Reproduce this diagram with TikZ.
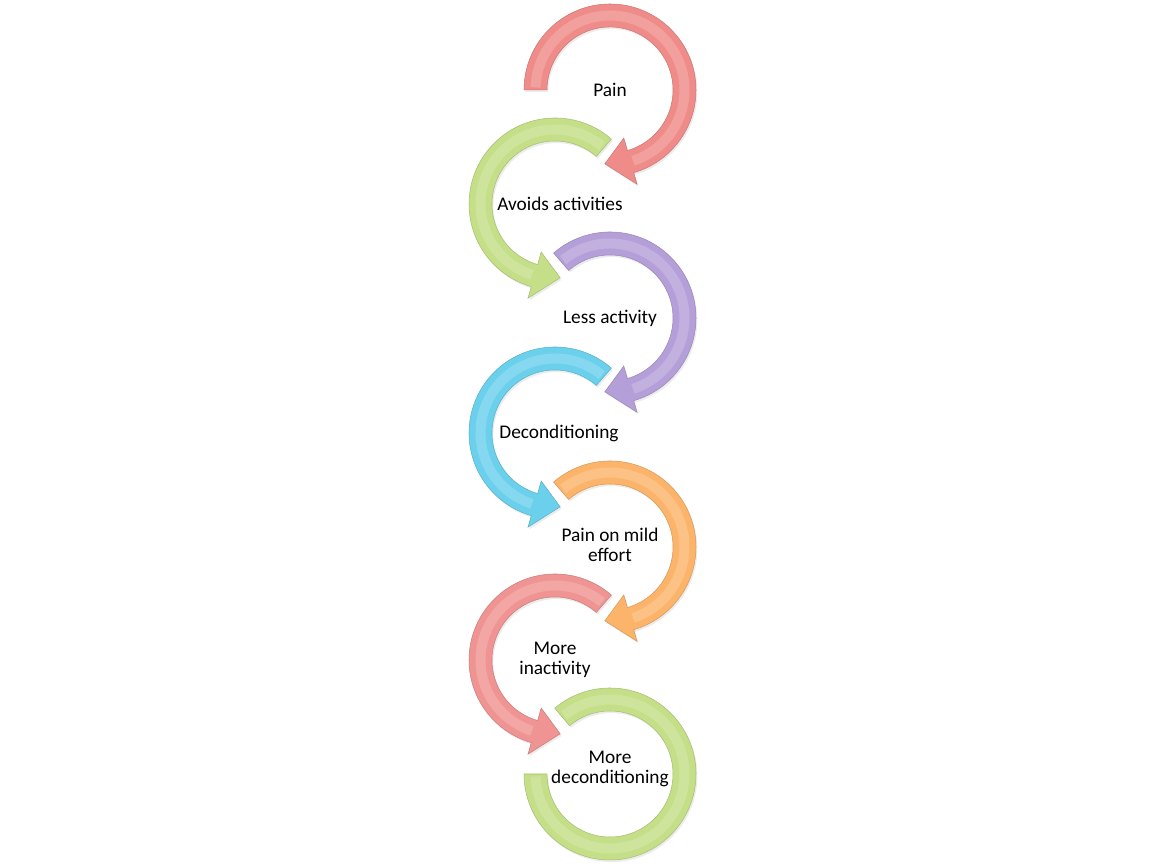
\documentclass[tikz,border=0pt]{standalone}
\usepackage{fontspec}
\setmainfont{Carlito}
\usetikzlibrary{calc,shadows}

\definecolor{painred}{HTML}{EF8C89}
\definecolor{avoidgreen}{HTML}{C4DF88}
\definecolor{lesspurple}{HTML}{B59FD9}
\definecolor{decondcyan}{HTML}{6BD0EC}
\definecolor{effortorange}{HTML}{FCB46A}
\definecolor{inactred}{HTML}{EF9492}
\definecolor{moregreen}{HTML}{C4DF88}

\tikzset{
  ringlabel/.style={align=center,font=\fontsize{11}{11.2}\selectfont,inner sep=0pt},
  ringbody/.style={fill=#1,draw=#1!85!black,line width=0.3pt,
    drop shadow={opacity=0.15,shadow xshift=0.8pt,shadow yshift=-1.2pt}},
  ringshine/.style={draw=#1!40!white,line width=0.2cm,opacity=0.3}
}

% clockwise ring arrow, head at the bottom (right column)
\newcommand{\cwring}[3]{%
  \fill[ringbody=#3] ($(#1)+(#2:86)$) arc[start angle=#2,end angle=-74,radius=86]
    -- ($(#1)+(-74:98)$) -- ($(#1)+(-94:74)$) -- ($(#1)+(-74:50)$) -- ($(#1)+(-74:63)$)
    arc[start angle=-74,end angle=#2,radius=63] -- cycle;
  \draw[ringshine=#3] ($(#1)+(#2-2:74.5)$) arc[start angle=#2-2,end angle=-72,radius=74.5];
}
% counterclockwise ring arrow, head at the bottom (left column)
\newcommand{\ccwring}[3]{%
  \fill[ringbody=#3] ($(#1)+(#2:86)$) arc[start angle=#2,end angle=254,radius=86]
    -- ($(#1)+(254:98)$) -- ($(#1)+(274:74)$) -- ($(#1)+(254:50)$) -- ($(#1)+(254:63)$)
    arc[start angle=254,end angle=#2,radius=63] -- cycle;
  \draw[ringshine=#3] ($(#1)+(#2+2:74.5)$) arc[start angle=#2+2,end angle=252,radius=74.5];
}

\begin{document}
\begin{tikzpicture}[x=0.02cm,y=0.02cm]
  \useasboundingbox (0,0) rectangle (1154,864);

  \coordinate (pain) at (610,774);
  \coordinate (avoid) at (555,660);
  \coordinate (less) at (610,546);
  \coordinate (decond) at (555,431);
  \coordinate (effort) at (610,317);
  \coordinate (inact) at (555,204);
  \coordinate (more) at (610,90);

  \cwring{pain}{180}{painred}
  \ccwring{avoid}{49}{avoidgreen}
  \cwring{less}{131}{lesspurple}
  \ccwring{decond}{49}{decondcyan}
  \cwring{effort}{131}{effortorange}
  \ccwring{inact}{49}{inactred}

  % last ring has no head
  \fill[ringbody=moregreen] ($(more)+(130:86)$) arc[start angle=130,end angle=-180,radius=86]
    -- ($(more)+(180:63)$) arc[start angle=-180,end angle=130,radius=63] -- cycle;
  \draw[ringshine=moregreen] ($(more)+(128:74.5)$) arc[start angle=128,end angle=-178,radius=74.5];

  \node[ringlabel] (painlbl) at (pain) {Pain};
  \node[ringlabel] (avoidlbl) at ($(avoid)+(5,0)$) {Avoids activities};
  \node[ringlabel] (lesslbl) at (less) {Less activity};
  \node[ringlabel] (decondlbl) at ($(decond)+(4,0)$) {Deconditioning};
  \node[ringlabel] (effortlbl) at ($(effort)+(0,2)$) {Pain on mild\\effort};
  \node[ringlabel] (inactlbl) at (inact) {More\\inactivity};
  \node[ringlabel] (morelbl) at ($(more)+(0,5)$) {More\\deconditioning};
\end{tikzpicture}
\end{document}
